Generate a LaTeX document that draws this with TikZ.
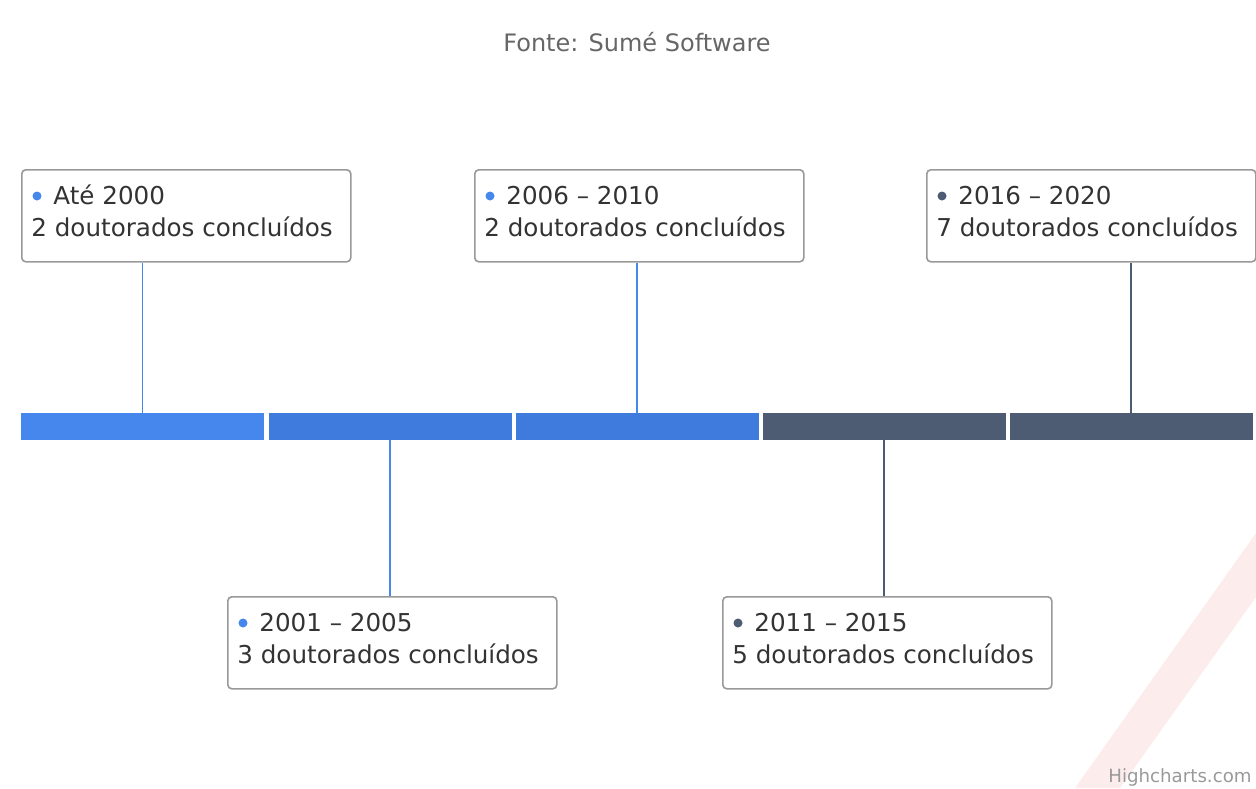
\documentclass[tikz,border=0pt]{standalone}
\usepackage{fontspec}
\setmainfont{DejaVu Sans}
\definecolor{segA}{HTML}{4587EC}
\definecolor{segB}{HTML}{3F7BDC}
\definecolor{segC}{HTML}{4D5B73}
\definecolor{txt}{HTML}{333333}
\definecolor{boxline}{HTML}{999999}
\definecolor{stripe}{HTML}{FDECEC}
\begin{document}
\begin{tikzpicture}[x=0.5pt,y=-0.5pt,
  seg/.style={rectangle,inner sep=0pt,minimum width=121.5pt,minimum height=13.5pt,draw=none},
  lbox/.style={rectangle,anchor=north west,draw=boxline,line width=0.8pt,rounded corners=2pt,fill=white,minimum width=164.5pt,minimum height=46pt,inner sep=0pt},
  ltext/.style={anchor=base west,inner sep=0pt,text=txt,font=\fontsize{12.3pt}{14pt}\selectfont},
  ldot/.style={circle,inner sep=0pt,minimum size=4.5pt,draw=none},
  conn/.style={line width=0.9pt}]
\useasboundingbox (0,0) rectangle (1256,788);
% watermark stripe
\fill[stripe] (1075,788) -- (1256,533) -- (1256,597) -- (1120,788) -- cycle;
% title
\node[anchor=base,inner sep=0pt,text=black!60,font=\fontsize{12pt}{14pt}\selectfont] (title) at (637,51) {Fonte: Sumé Software};
% bar segments
\node[seg,fill=segA] (s1) at (142.5,426.5) {};
\node[seg,fill=segB] (s2) at (390,426.5) {};
\node[seg,fill=segB] (s3) at (637,426.5) {};
\node[seg,fill=segC] (s4) at (884,426.5) {};
\node[seg,fill=segC] (s5) at (1131,426.5) {};
% boxes
\node[lbox] (b1) at (21,169) {};
\node[lbox] (b2) at (227,596) {};
\node[lbox] (b3) at (474,169) {};
\node[lbox] (b4) at (722,596) {};
\node[lbox] (b5) at (926,169) {};
% connectors
\draw[conn,segA] (s1.north) -- (s1.north |- b1.south);
\draw[conn,segA] (s2.south) -- (s2.south |- b2.north);
\draw[conn,segA] (s3.north) -- (s3.north |- b3.south);
\draw[conn,segC] (s4.south) -- (s4.south |- b4.north);
\draw[conn,segC] (s5.north) -- (s5.north |- b5.south);
% labels
\foreach \b/\c/\ya/\yb in {b1/segA/Até 2000/2, b2/segA/2001 – 2005/3, b3/segA/2006 – 2010/2, b4/segC/2011 – 2015/5, b5/segC/2016 – 2020/7}{
  \node[ldot,fill=\c] (\b d) at ([shift={(16,27)}]\b.north west) {};
  \node[ltext] (\b t) at ([shift={(32,35)}]\b.north west) {\ya};
  \node[ltext] (\b n) at ([shift={(10,67)}]\b.north west) {\yb\ doutorados concluídos};
}
% credit
\node[anchor=base east,inner sep=0pt,text=black!40,font=\fontsize{9.1pt}{11pt}\selectfont] (credit) at (1252,782) {Highcharts.com};
\end{tikzpicture}
\end{document}
